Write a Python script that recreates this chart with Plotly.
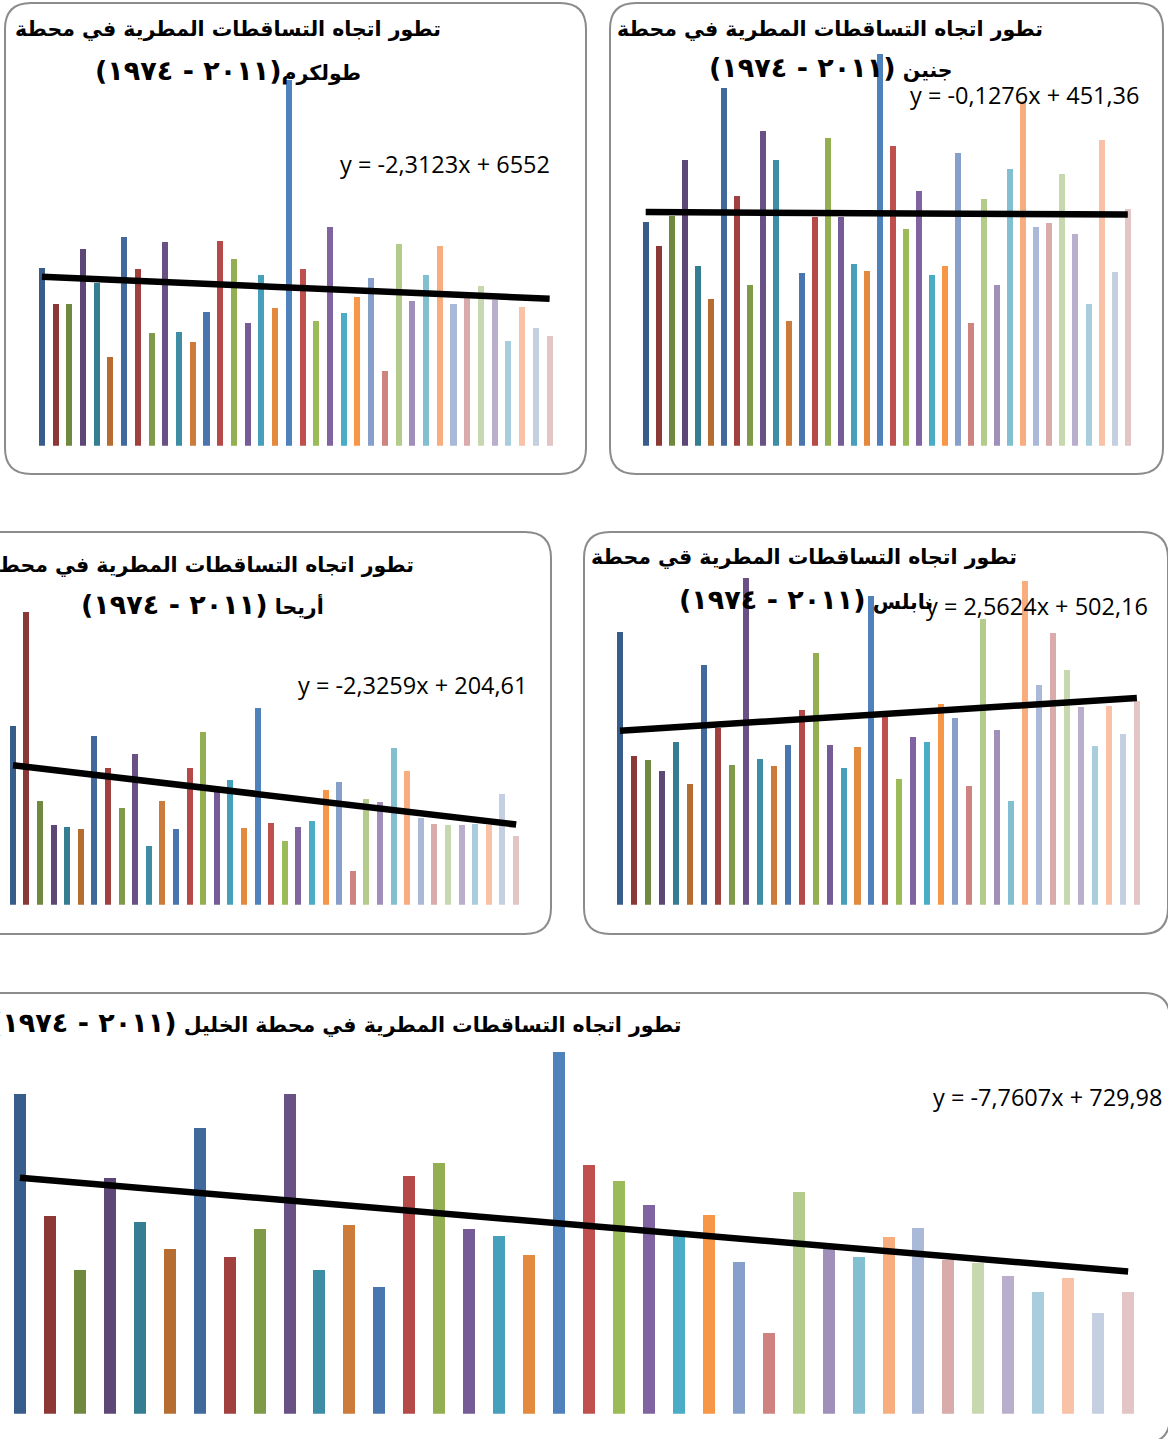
import plotly.graph_objects as go

W, H = 1168, 1439

# ---------------- data ----------------
years = list(range(1974, 2012))  # 38 seasons (1974 - 2011)

tulkarm = [687, 550, 550, 760, 632, 343, 810, 683, 439, 787, 443, 401, 517, 791, 725, 474, 660, 532, 1413,
           683, 482, 845, 513, 576, 648, 292, 783, 559, 663, 772, 548, 571, 617, 563, 408, 536, 455, 424]
jenin = [434, 387, 445, 553, 349, 285, 691, 484, 312, 608, 553, 241, 335, 443, 596, 443, 351, 339, 758,
         579, 420, 492, 330, 349, 567, 237, 478, 312, 536, 667, 424, 432, 526, 409, 274, 592, 337, 459]
jericho = [259, 425, 150, 115, 113, 110, 244, 199, 140, 218, 85, 150, 110, 199, 250, 165, 181, 111, 286,
           118, 92, 113, 121, 166, 178, 49, 153, 149, 227, 194, 126, 117, 115, 115, 117, 115, 160, 99]
nablus = [792, 432, 420, 388, 473, 351, 696, 513, 406, 949, 423, 403, 464, 566, 731, 464, 397, 458, 897,
          548, 365, 487, 473, 583, 542, 345, 830, 508, 301, 940, 638, 789, 682, 574, 461, 577, 496, 592]
hebron = [980, 605, 440, 724, 587, 504, 877, 480, 568, 980, 440, 580, 388, 730, 770, 568, 544, 486, 1107,
          761, 715, 639, 544, 608, 467, 247, 681, 510, 480, 541, 571, 473, 464, 424, 375, 418, 311, 375]

# linear trend coefficients (x = 1..38)
trend_slope = [-2.3123, -0.1276, -2.3259, 2.5624, -7.7607]
trend_intercept = [655.2, 451.36, 204.61, 502.16, 729.98]
equation_labels = ["y = -2,3123x + 6552", "y = -0,1276x + 451,36", "y = -2,3259x + 204,61",
                   "y = 2,5624x + 502,16", "y = -7,7607x + 729,98"]

period_label = "(٢٠١١ - ١٩٧٤)"
title_line1 = ["تطور اتجاه التساقطات المطرية في محطة",
               "تطور اتجاه التساقطات المطرية في محطة",
               "تطور اتجاه التساقطات المطرية في محطة",
               "تطور اتجاه التساقطات المطرية قي محطة",
               "تطور اتجاه التساقطات المطرية في محطة الخليل "]
title_line2 = ["طولكرم", "جنين ", "أريحا ", "نابلس ", ""]

series = [tulkarm, jenin, jericho, nablus, hebron]

palette = ["#385D8A", "#8C3836", "#71893F", "#5C4776", "#357D91", "#B66D31",
           "#41699B", "#A0403F", "#7F9A48", "#695185", "#3D8DA5", "#CD7B3A",
           "#4A76AF", "#B54A48", "#93AF52", "#755C96", "#469FBB", "#E38A3F",
           "#4F81BD", "#C0504D", "#9BBB59", "#8064A2", "#4BACC6", "#F79646",
           "#87A0CB", "#CE8381", "#B3CB8B", "#A08FB8", "#82BFD1", "#F8AD7E",
           "#AAB9D7", "#DAABAB", "#C8D8AE", "#B9AECB", "#A8CEDD", "#F9C1A5",
           "#C4CFE2", "#E2C5C4"]

# ---------------- layout (pixels) ----------------
plot_px = [(35.1, 556.5, 31.5, 445.7), (639.2, 1134.3, 31.5, 445.7),
           (6.2, 523.0, 560.0, 904.7), (613.0, 1143.9, 560.0, 904.7),
           (5.0, 1143.1, 1021.5, 1413.7)]
y_max = [1600, 800, 500, 1000, 1200]
box_px = [(5, 3, 586, 474), (610, 3, 1163, 474), (-30, 532, 551, 934),
          (584, 532, 1168, 934), (-30, 993, 1170, 1443)]
title1_pos = [(228, 29, "center"), (830, 29, "center"), (201, 565, "center"),
              (804, 557, "center"), (683, 1022, "right")]
title2_pos = [(228, 70), (831, 68), (202, 604), (806, 599), None]
eq_pos = [(552, 164), (1141, 95), (529, 685), (1150, 606), (1164, 1097)]
bar_width = [0.44, 0.46, 0.44, 0.43, 0.4]
TITLE_FONT = dict(family="DejaVu Sans", size=20.5, color="black")
EQ_FONT = dict(family="Open Sans", size=23.5, color="black")
NUM_STYLE = "font-size:27px"


def fx(px):
    return px / W


def fy(py):
    return 1 - py / H


def rounded_path(x0, y0, x1, y1, r):
    X = lambda v: f"{fx(v):.5f}"
    Y = lambda v: f"{fy(v):.5f}"
    return (f"M {X(x0 + r)},{Y(y0)} L {X(x1 - r)},{Y(y0)} Q {X(x1)},{Y(y0)} {X(x1)},{Y(y0 + r)} "
            f"L {X(x1)},{Y(y1 - r)} Q {X(x1)},{Y(y1)} {X(x1 - r)},{Y(y1)} "
            f"L {X(x0 + r)},{Y(y1)} Q {X(x0)},{Y(y1)} {X(x0)},{Y(y1 - r)} "
            f"L {X(x0)},{Y(y0 + r)} Q {X(x0)},{Y(y0)} {X(x0 + r)},{Y(y0)} Z")


fig = go.Figure()
shapes = []
annotations = []
idx = list(range(1, len(years) + 1))
period_html = f"<span style='{NUM_STYLE}'>{period_label}</span>"

for i, vals in enumerate(series):
    n = "" if i == 0 else str(i + 1)
    xa, ya = "x" + n, "y" + n
    fig.add_trace(go.Bar(x=idx, y=vals, marker=dict(color=palette, line=dict(width=0)),
                         width=bar_width[i], xaxis=xa, yaxis=ya, showlegend=False,
                         hovertext=[str(y) for y in years]))
    tx = [idx[0], idx[-1]]
    ty = [trend_slope[i] * t + trend_intercept[i] for t in tx]
    fig.add_trace(go.Scatter(x=tx, y=ty, mode="lines", line=dict(color="black", width=6.5),
                             xaxis=xa, yaxis=ya, showlegend=False, hoverinfo="skip"))
    l, r, t, b = plot_px[i]
    axis_common = dict(visible=False, showgrid=False, zeroline=False, fixedrange=True)
    fig.layout["xaxis" + n] = dict(domain=[fx(l), fx(r)], range=[0.5, len(years) + 0.5],
                                   anchor=ya, **axis_common)
    fig.layout["yaxis" + n] = dict(domain=[fy(b), fy(t)], range=[0, y_max[i]],
                                   anchor=xa, **axis_common)

    bx0, by0, bx1, by1 = box_px[i]
    shapes.append(dict(type="path", path=rounded_path(bx0, by0, bx1, by1, 26),
                       xref="paper", yref="paper", line=dict(color="#8C8C8C", width=2),
                       fillcolor="rgba(0,0,0,0)", layer="below"))

    px1, py1, anc = title1_pos[i]
    t1 = title_line1[i] + (period_html if title2_pos[i] is None else "")
    annotations.append(dict(text="<b>" + t1 + "</b>", x=fx(px1), y=fy(py1),
                            xref="paper", yref="paper", xanchor=anc, yanchor="middle",
                            showarrow=False, font=TITLE_FONT))
    if title2_pos[i] is not None:
        px2, py2 = title2_pos[i]
        annotations.append(dict(text="<b>" + title_line2[i] + period_html + "</b>",
                                x=fx(px2), y=fy(py2),
                                xref="paper", yref="paper", xanchor="center", yanchor="middle",
                                showarrow=False, font=TITLE_FONT))
    ex, ey = eq_pos[i]
    annotations.append(dict(text=equation_labels[i], x=fx(ex), y=fy(ey), xref="paper", yref="paper",
                            xanchor="right", yanchor="middle", showarrow=False, font=EQ_FONT))

fig.update_layout(width=W, height=H, margin=dict(l=0, r=0, t=0, b=0),
                  paper_bgcolor="white", plot_bgcolor="rgba(0,0,0,0)",
                  shapes=shapes, annotations=annotations, bargap=0)

fig.write_html("out.html", config={"displayModeBar": False},
               post_script="document.body.style.margin='0px';")
